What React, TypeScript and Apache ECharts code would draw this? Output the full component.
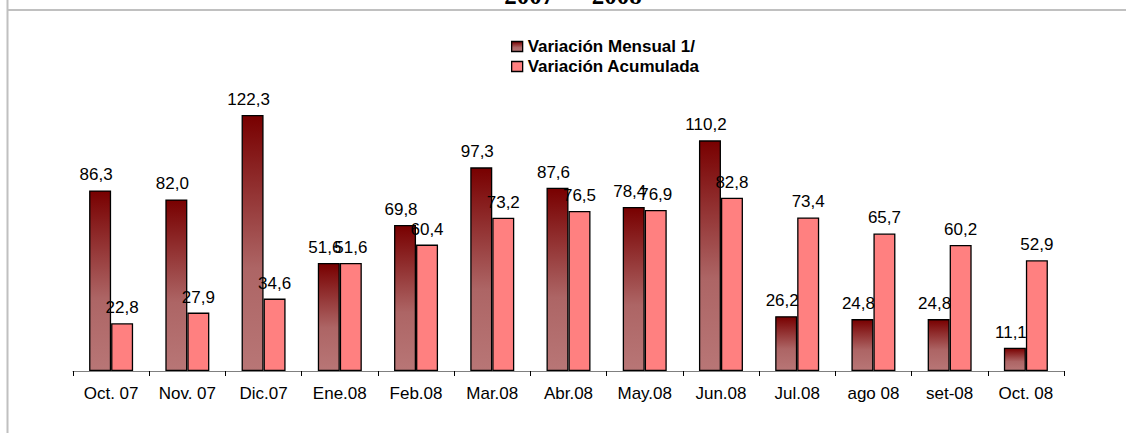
import React, { useEffect, useRef } from "react";
import * as echarts from "echarts";

const categories = ["Oct. 07", "Nov. 07", "Dic.07", "Ene.08", "Feb.08", "Mar.08", "Abr.08", "May.08", "Jun.08", "Jul.08", "ago 08", "set-08", "Oct. 08"];
const mensual = [86.3, 82.0, 122.3, 51.6, 69.8, 97.3, 87.6, 78.4, 110.2, 26.2, 24.8, 24.8, 11.1];
const acumulada = [22.8, 27.9, 34.6, 51.6, 60.4, 73.2, 76.5, 76.9, 82.8, 73.4, 65.7, 60.2, 52.9];
const seriesNames = ["Variación Mensual 1/", "Variación Acumulada"];
const titleText = "2007  –  2008";

const fmt = (p: any) => Number(p.value).toFixed(1).replace(".", ",");

export default function App() {
  const ref = useRef<HTMLDivElement>(null);
  useEffect(() => {
    document.body.style.margin = "0";
    if (!ref.current) return;
    const chart = echarts.init(ref.current, null, { renderer: "svg" });
    const darkGrad = new echarts.graphic.LinearGradient(0, 0, 0, 1, [
      { offset: 0, color: "#780000" },
      { offset: 0.6, color: "#ad6565" },
      { offset: 1, color: "#b87676" },
    ]);
    const labelStyle = {
      show: true,
      position: "top" as const,
      distance: 7,
      color: "#000",
      fontFamily: "Liberation Sans, Arial, sans-serif",
      fontSize: 17,
      formatter: fmt,
    };
    chart.setOption({
      animation: false,
      backgroundColor: "#fff",
      graphic: [
        { type: "line", shape: { x1: 7.5, y1: 0, x2: 7.5, y2: 433 }, style: { stroke: "#c0c0c0", lineWidth: 2 } },
        { type: "line", shape: { x1: 8, y1: 10, x2: 1126, y2: 10 }, style: { stroke: "#c0c0c0", lineWidth: 2 } },
        {
          type: "text",
          x: 573,
          y: -5,
          style: {
            text: titleText,
            font: "bold 25px 'Liberation Serif', 'Times New Roman', serif",
            fill: "#000",
            align: "center",
            verticalAlign: "middle",
          },
        },
      ],
      legend: {
        orient: "vertical",
        left: 506,
        top: 33,
        itemWidth: 11,
        itemHeight: 10,
        itemGap: 3,
        icon: "rect",
        itemStyle: { borderColor: "#000", borderWidth: 1.3 },
        data: seriesNames,
        textStyle: {
          fontFamily: "Liberation Sans, Arial, sans-serif",
          fontWeight: "bold",
          fontSize: 17,
          color: "#000",
        },
      },
      grid: { left: 73, right: 62, top: 78, bottom: 64 },
      xAxis: {
        type: "category",
        data: categories,
        axisLine: { lineStyle: { color: "#808080", width: 1 } },
        axisTick: { show: true, length: 5, lineStyle: { color: "#000" } },
        axisLabel: {
          color: "#000",
          fontFamily: "Liberation Sans, Arial, sans-serif",
          fontSize: 17,
          margin: 14,
        },
      },
      yAxis: {
        type: "value",
        min: 0,
        max: 140,
        show: false,
        splitLine: { show: false },
      },
      series: [
        {
          name: seriesNames[0],
          type: "bar",
          data: mensual,
          barWidth: 22,
          barGap: "0%",
          itemStyle: { color: darkGrad, borderColor: "#000", borderWidth: 1.3 },
          label: { ...labelStyle, offset: [-4, 0] },
        },
        {
          name: seriesNames[1],
          type: "bar",
          data: acumulada,
          barWidth: 22,
          itemStyle: { color: "#ff8080", borderColor: "#000", borderWidth: 1.3 },
          label: labelStyle,
        },
      ],
    });
    return () => chart.dispose();
  }, []);
  return <div ref={ref} style={{ width: 1126, height: 435 }} />;
}
